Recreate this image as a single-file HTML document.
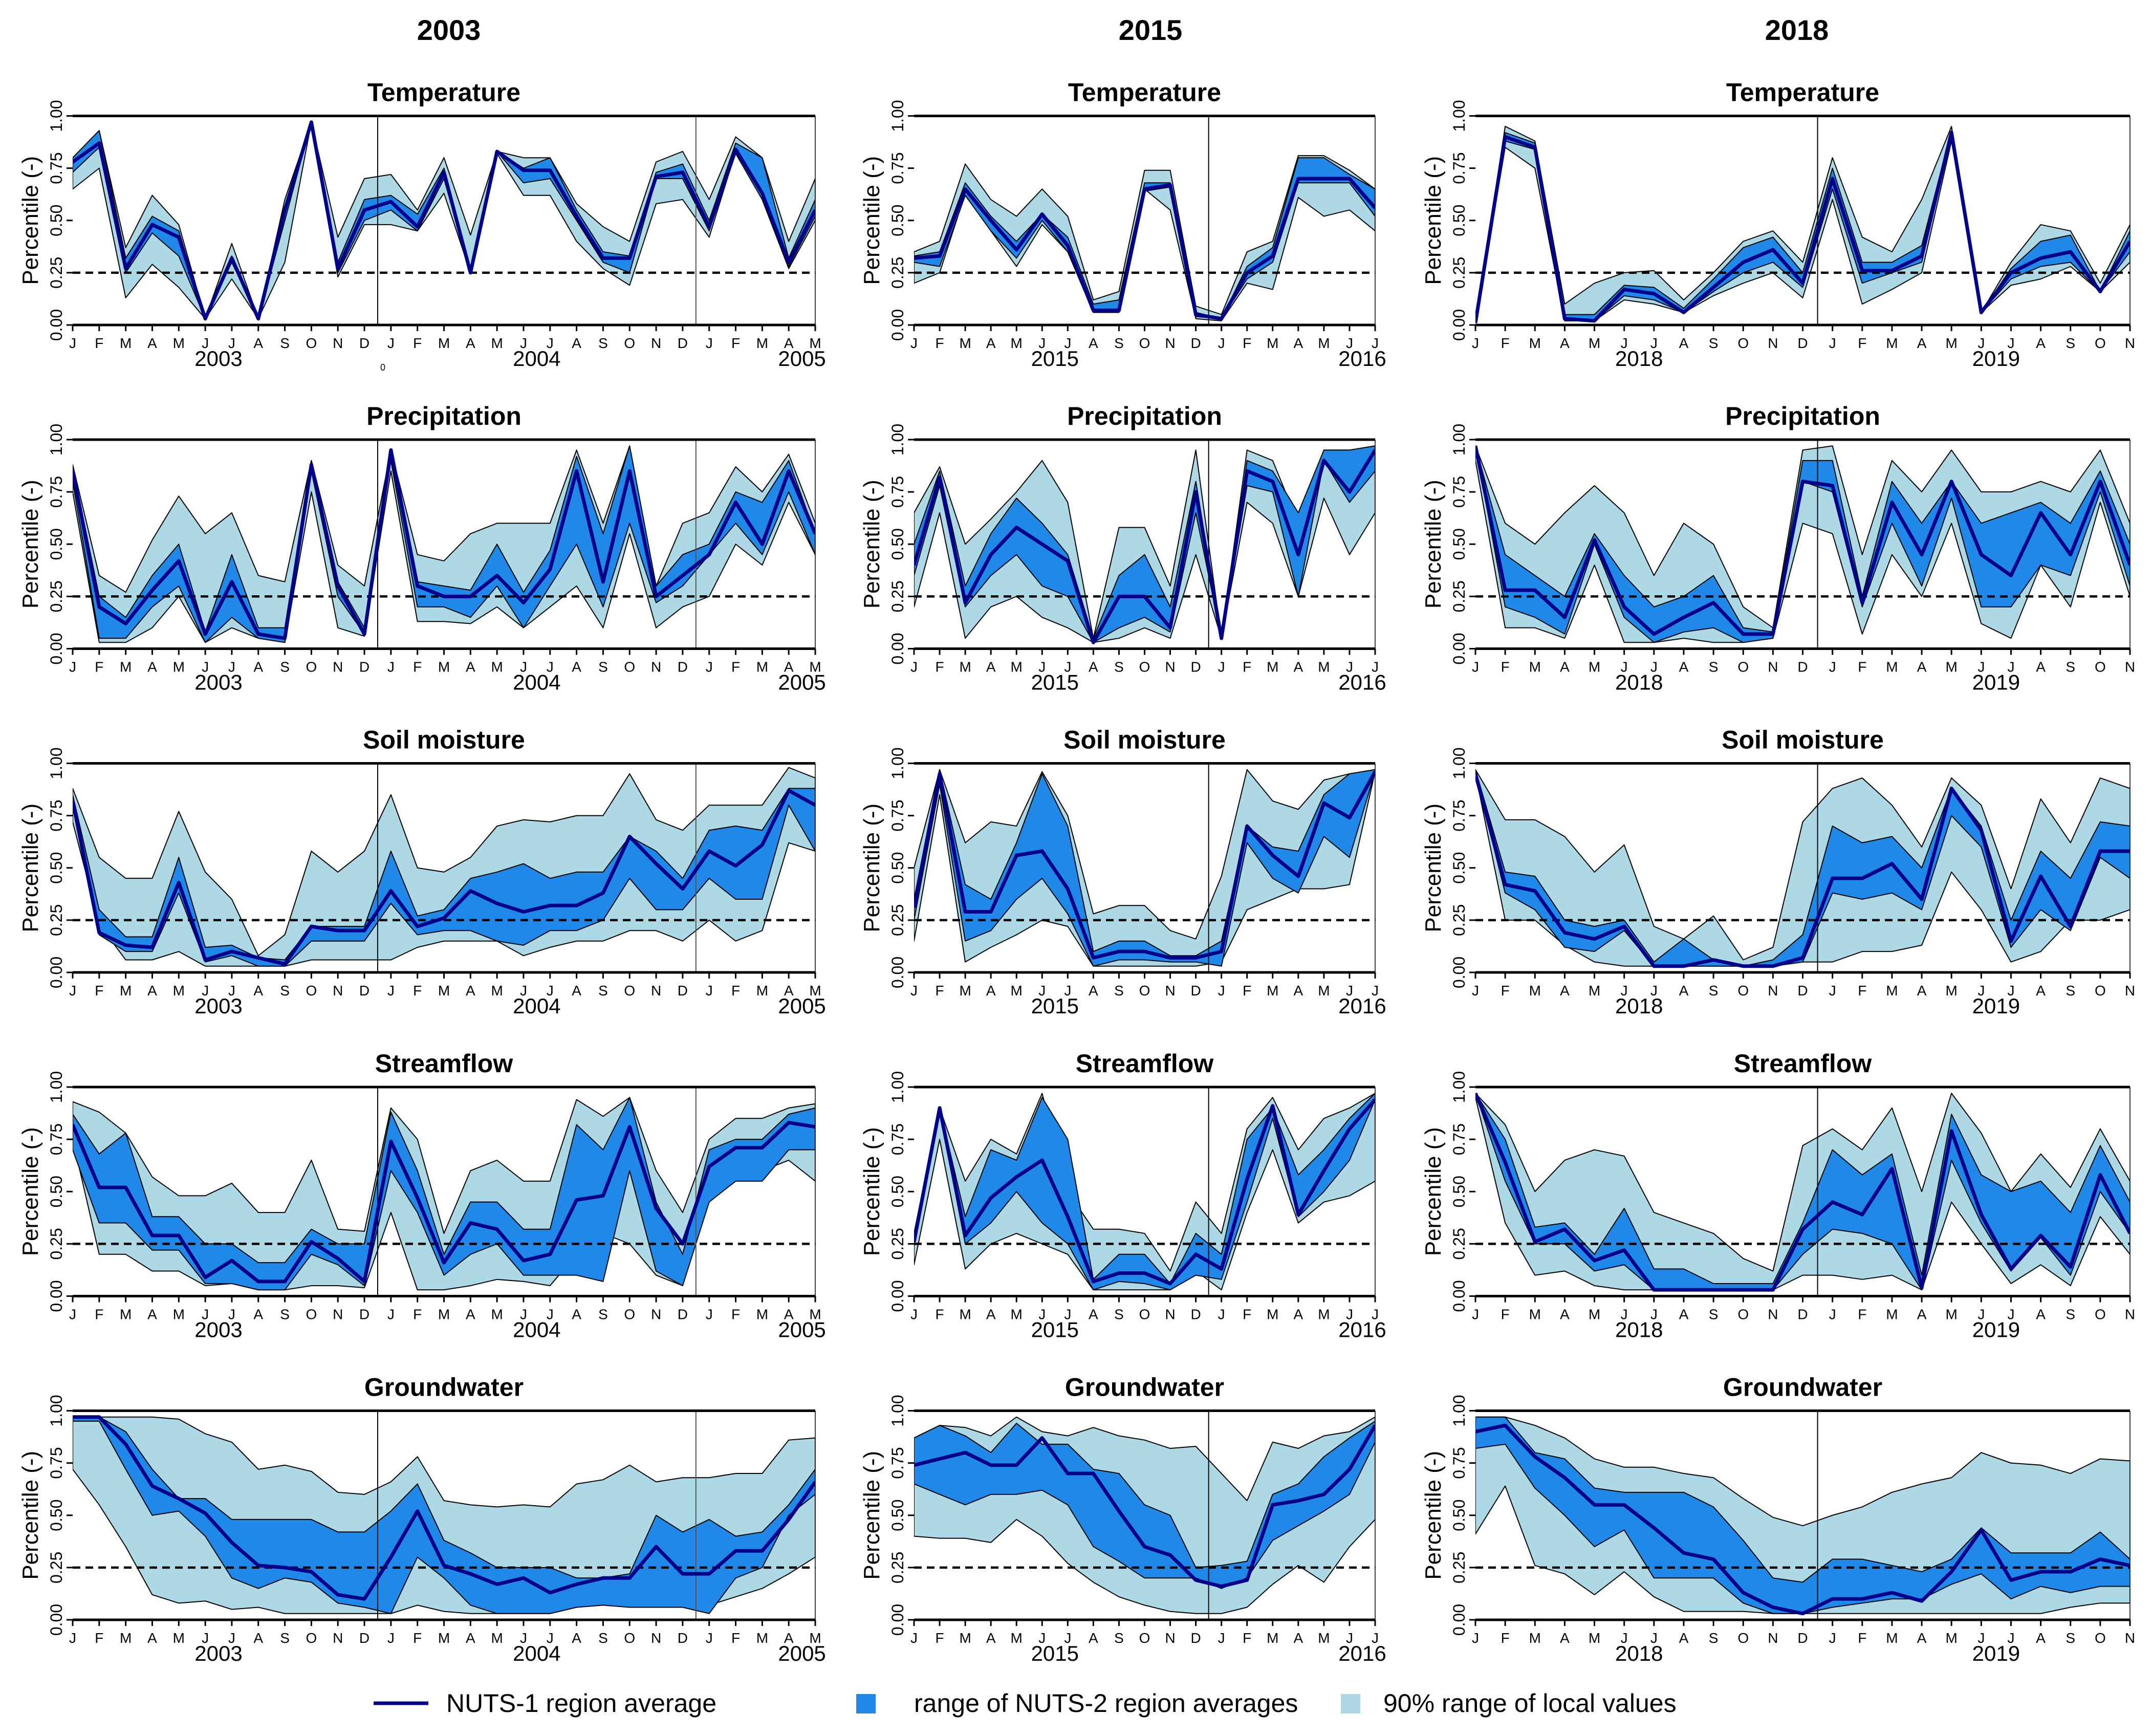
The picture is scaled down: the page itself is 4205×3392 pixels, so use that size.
<!DOCTYPE html>
<html><head><meta charset="utf-8"><title>Drought percentiles</title>
<style>
html,body{margin:0;padding:0;background:#fff;}
svg{display:block;font-family:"Liberation Sans",sans-serif;}
</style></head>
<body>
<svg id="fig" width="4205" height="3392" viewBox="0 0 4205 3392" xmlns="http://www.w3.org/2000/svg">
<defs>
<clipPath id="cp0"><rect x="142" y="226" width="1451" height="410"/></clipPath>
<clipPath id="cp1"><rect x="1786" y="226" width="901" height="410"/></clipPath>
<clipPath id="cp2"><rect x="2883" y="226" width="1279" height="410"/></clipPath>
</defs>
<g font-weight="bold" font-size="56" text-anchor="middle">
<text x="877" y="78">2003</text>
<text x="2248" y="78">2015</text>
<text x="3511" y="78">2018</text>
</g>
<text x="748" y="724" font-size="18" text-anchor="middle">0</text>
<g id="panels"></g>
<g font-size="50">
<line x1="730" y1="3328" x2="837" y2="3328" stroke="#00008B" stroke-width="7"/>
<text x="872" y="3345">NUTS-1 region average</text>
<rect x="1673" y="3310" width="38" height="38" fill="#1f88e9"/>
<text x="1786" y="3345">range of NUTS-2 region averages</text>
<rect x="2620" y="3310" width="38" height="38" fill="#ADD8E6"/>
<text x="2703" y="3345">90% range of local values</text>
</g>
</svg>
<script>
// ===== Data: Temperature =====
const T03_avg=[.78,.87,.27,.48,.42,.03,.32,.03,.55,.97,.27,.55,.59,.47,.73,.25,.83,.74,.74,.52,.32,.32,.71,.73,.47,.84,.63,.3,.55];
const T03_n2lo=[.73,.85,.25,.44,.33,.03,.3,.03,.5,.97,.25,.5,.55,.45,.7,.25,.83,.68,.7,.5,.3,.25,.7,.7,.45,.82,.6,.28,.52];
const T03_n2hi=[.8,.93,.32,.52,.45,.03,.33,.03,.55,.97,.3,.6,.62,.53,.75,.27,.83,.75,.8,.55,.35,.33,.73,.77,.5,.87,.8,.32,.6];
const T03_lclo=[.65,.75,.13,.29,.18,.03,.22,.03,.3,.97,.23,.48,.48,.45,.63,.25,.82,.62,.62,.4,.27,.19,.58,.6,.42,.83,.6,.27,.5];
const T03_lchi=[.78,.93,.37,.62,.48,.03,.39,.03,.6,.97,.42,.7,.72,.55,.8,.43,.83,.8,.8,.58,.47,.4,.78,.83,.6,.9,.8,.4,.7];
const T15_avg=[.32,.33,.65,.5,.36,.53,.38,.07,.07,.65,.67,.05,.03,.25,.33,.7,.7,.7,.56];
const T15_n2lo=[.3,.28,.62,.45,.32,.5,.35,.06,.06,.64,.66,.04,.03,.22,.3,.68,.68,.68,.52];
const T15_n2hi=[.33,.35,.68,.52,.4,.53,.42,.1,.12,.68,.68,.06,.03,.28,.37,.8,.8,.72,.65];
const T15_lclo=[.2,.25,.63,.45,.28,.48,.35,.06,.06,.65,.55,.03,.02,.2,.17,.61,.52,.55,.45];
const T15_lchi=[.35,.4,.77,.6,.52,.65,.52,.12,.16,.74,.74,.09,.05,.35,.4,.81,.81,.74,.65];
const T18_avg=[.01,.9,.85,.03,.02,.17,.15,.06,.18,.3,.36,.2,.7,.26,.26,.33,.92,.06,.25,.32,.35,.16,.4];
const T18_n2lo=[.01,.88,.84,.02,.02,.14,.12,.06,.16,.25,.3,.18,.65,.2,.25,.3,.9,.06,.22,.28,.3,.16,.35];
const T18_n2hi=[.01,.92,.87,.05,.05,.19,.18,.08,.22,.37,.42,.25,.75,.3,.3,.38,.93,.06,.27,.4,.43,.16,.45];
const T18_lclo=[.01,.85,.75,.02,.02,.12,.1,.06,.14,.2,.25,.13,.6,.1,.17,.25,.88,.06,.19,.22,.28,.16,.3];
const T18_lchi=[.01,.95,.88,.1,.2,.25,.26,.12,.25,.4,.45,.3,.8,.42,.35,.6,.95,.06,.3,.48,.45,.2,.48];
// ===== Data: Precipitation =====
const P03_avg=[.85,.2,.12,.28,.42,.07,.32,.07,.05,.88,.3,.07,.95,.3,.25,.25,.35,.22,.38,.85,.32,.85,.25,.35,.45,.7,.5,.85,.55];
const P03_n2lo=[.8,.05,.05,.2,.3,.03,.15,.05,.03,.85,.25,.07,.9,.2,.2,.15,.3,.1,.3,.5,.2,.6,.22,.3,.45,.6,.45,.75,.45];
const P03_n2hi=[.87,.25,.15,.35,.5,.08,.45,.1,.1,.9,.32,.1,.95,.32,.3,.28,.5,.27,.47,.92,.55,.97,.3,.45,.5,.75,.7,.9,.55];
const P03_lclo=[.75,.03,.03,.1,.25,.03,.1,.05,.03,.75,.1,.06,.85,.13,.13,.12,.2,.1,.2,.3,.1,.55,.1,.2,.25,.5,.4,.7,.45];
const P03_lchi=[.88,.35,.27,.52,.73,.55,.65,.35,.32,.9,.4,.3,.95,.45,.42,.55,.6,.6,.6,.95,.6,.97,.3,.6,.65,.87,.75,.93,.6];
const P15_avg=[.4,.82,.22,.45,.58,.5,.42,.03,.25,.25,.1,.75,.05,.85,.8,.45,.9,.75,.95];
const P15_n2lo=[.35,.78,.2,.35,.45,.3,.25,.03,.1,.15,.08,.65,.05,.78,.75,.25,.9,.7,.85];
const P15_n2hi=[.5,.85,.3,.55,.72,.6,.45,.05,.35,.45,.2,.8,.05,.9,.85,.65,.95,.95,.97];
const P15_lclo=[.2,.65,.05,.2,.25,.15,.1,.03,.05,.1,.05,.45,.05,.7,.6,.25,.72,.45,.65];
const P15_lchi=[.65,.87,.5,.62,.75,.9,.7,.05,.58,.58,.3,.95,.05,.95,.9,.6,.95,.95,.97];
const P18_avg=[.97,.28,.28,.15,.52,.2,.07,.15,.22,.07,.07,.8,.78,.22,.7,.45,.8,.45,.35,.65,.45,.8,.4];
const P18_n2lo=[.97,.2,.15,.07,.5,.15,.03,.08,.1,.03,.05,.8,.75,.2,.6,.3,.72,.2,.2,.4,.35,.75,.3];
const P18_n2hi=[.97,.45,.35,.25,.55,.35,.2,.25,.35,.1,.08,.9,.9,.25,.8,.6,.8,.6,.65,.7,.6,.85,.5];
const P18_lclo=[.9,.1,.1,.05,.4,.03,.03,.05,.03,.03,.05,.6,.55,.07,.45,.25,.6,.12,.05,.4,.2,.7,.25];
const P18_lchi=[.97,.6,.5,.65,.78,.65,.35,.6,.5,.2,.1,.95,.97,.45,.9,.75,.95,.75,.75,.8,.75,.95,.6];
// ===== Data: Soil moisture =====
const S03_avg=[.82,.19,.13,.12,.43,.06,.1,.07,.04,.22,.2,.2,.39,.22,.26,.39,.33,.29,.32,.32,.38,.65,.52,.4,.58,.51,.61,.87,.8];
const S03_n2lo=[.8,.18,.1,.1,.38,.05,.08,.03,.03,.15,.15,.15,.33,.18,.2,.2,.15,.13,.2,.2,.25,.45,.3,.3,.45,.35,.35,.8,.58];
const S03_n2hi=[.85,.3,.17,.17,.55,.12,.13,.07,.06,.22,.22,.22,.58,.27,.3,.45,.48,.52,.45,.48,.48,.65,.58,.45,.68,.7,.68,.88,.88];
const S03_lclo=[.72,.23,.06,.06,.1,.03,.03,.03,.03,.06,.06,.06,.06,.12,.15,.15,.15,.08,.12,.15,.15,.2,.2,.15,.25,.15,.2,.62,.58];
const S03_lchi=[.88,.55,.45,.45,.77,.48,.35,.08,.18,.58,.48,.58,.85,.5,.48,.55,.7,.73,.72,.75,.75,.95,.73,.68,.8,.8,.8,.98,.93];
const S15_avg=[.31,.95,.29,.29,.56,.58,.4,.07,.1,.1,.07,.07,.1,.7,.56,.46,.81,.74,.96];
const S15_n2lo=[.25,.9,.15,.2,.35,.45,.28,.03,.06,.06,.05,.05,.03,.62,.45,.38,.65,.55,.96];
const S15_n2hi=[.35,.97,.42,.35,.62,.95,.7,.1,.15,.15,.08,.08,.15,.7,.6,.58,.85,.95,.97];
const S15_lclo=[.15,.85,.05,.12,.18,.25,.22,.03,.03,.03,.03,.03,.05,.3,.35,.4,.4,.42,.96];
const S15_lchi=[.5,.97,.62,.72,.7,.96,.75,.28,.32,.32,.2,.16,.46,.97,.82,.78,.92,.95,.97];
const S18_avg=[.95,.42,.39,.19,.16,.22,.03,.03,.06,.03,.03,.07,.45,.45,.52,.35,.88,.68,.15,.46,.22,.58,.58];
const S18_n2lo=[.95,.38,.3,.12,.1,.2,.03,.03,.03,.03,.03,.05,.38,.35,.38,.3,.75,.6,.12,.3,.2,.55,.45];
const S18_n2hi=[.97,.48,.46,.25,.22,.25,.05,.16,.06,.03,.06,.18,.7,.62,.65,.5,.88,.7,.25,.58,.45,.72,.7];
const S18_lclo=[.95,.25,.25,.13,.05,.03,.03,.03,.03,.03,.03,.05,.05,.1,.1,.13,.48,.3,.05,.1,.25,.25,.3];
const S18_lchi=[.97,.73,.73,.65,.48,.61,.22,.16,.27,.06,.12,.72,.88,.93,.8,.6,.93,.8,.4,.83,.62,.93,.88];
// ===== Data: Streamflow =====
const F03_avg=[.82,.52,.52,.29,.29,.09,.17,.07,.07,.26,.18,.07,.74,.47,.16,.35,.32,.17,.2,.46,.48,.81,.42,.25,.62,.71,.71,.83,.81];
const F03_n2lo=[.7,.35,.35,.22,.22,.06,.06,.03,.03,.2,.15,.05,.6,.4,.1,.2,.25,.1,.1,.1,.07,.6,.12,.05,.45,.55,.55,.7,.7];
const F03_n2hi=[.87,.68,.78,.38,.38,.25,.25,.16,.16,.32,.25,.25,.88,.6,.2,.45,.45,.32,.32,.82,.7,.95,.45,.2,.7,.75,.75,.87,.9];
const F03_lclo=[.75,.2,.2,.12,.12,.05,.06,.03,.03,.05,.05,.04,.4,.03,.03,.05,.08,.07,.05,.2,.3,.25,.1,.05,.5,.62,.6,.65,.55];
const F03_lchi=[.93,.88,.78,.57,.48,.48,.54,.4,.4,.65,.32,.31,.9,.75,.3,.6,.65,.55,.55,.94,.86,.95,.6,.4,.75,.85,.85,.9,.92];
const F15_avg=[.26,.9,.29,.47,.57,.65,.38,.07,.11,.11,.06,.2,.13,.56,.91,.39,.6,.8,.94];
const F15_n2lo=[.24,.88,.25,.35,.5,.35,.25,.03,.07,.06,.03,.1,.08,.45,.85,.38,.5,.65,.94];
const F15_n2hi=[.3,.9,.38,.7,.65,.95,.75,.08,.2,.2,.06,.3,.2,.75,.9,.58,.7,.85,.97];
const F15_lclo=[.15,.75,.13,.25,.3,.25,.2,.03,.03,.03,.03,.12,.03,.4,.7,.35,.45,.48,.55];
const F15_lchi=[.3,.9,.55,.75,.68,.97,.5,.32,.32,.3,.12,.45,.3,.8,.95,.7,.85,.9,.97];
const F18_avg=[.97,.64,.26,.32,.17,.22,.03,.03,.03,.03,.03,.32,.45,.39,.61,.04,.79,.39,.13,.29,.14,.58,.3];
const F18_n2lo=[.97,.55,.25,.25,.12,.15,.03,.03,.03,.03,.03,.2,.32,.3,.25,.03,.65,.35,.12,.28,.1,.5,.3];
const F18_n2hi=[.97,.75,.33,.35,.2,.42,.13,.13,.06,.06,.06,.35,.7,.58,.68,.1,.87,.58,.5,.55,.4,.72,.45];
const F18_lclo=[.95,.35,.1,.12,.05,.03,.03,.03,.03,.03,.03,.1,.1,.08,.1,.03,.45,.25,.06,.15,.05,.38,.2];
const F18_lchi=[.97,.82,.5,.65,.7,.67,.4,.35,.3,.18,.12,.72,.8,.7,.9,.5,.97,.78,.5,.68,.52,.8,.55];
// ===== Data: Groundwater =====
const G03_avg=[.97,.97,.84,.64,.58,.51,.37,.26,.25,.23,.12,.1,.3,.52,.26,.22,.17,.2,.13,.17,.2,.2,.35,.22,.22,.33,.33,.48,.66];
const G03_n2lo=[.95,.95,.72,.5,.52,.4,.2,.15,.2,.18,.08,.06,.03,.3,.2,.07,.03,.03,.03,.06,.07,.06,.06,.06,.03,.2,.25,.5,.6];
const G03_n2hi=[.97,.97,.9,.72,.58,.58,.48,.48,.48,.48,.42,.42,.52,.65,.38,.32,.25,.25,.25,.2,.2,.22,.5,.42,.48,.4,.42,.55,.72];
const G03_lclo=[.72,.55,.35,.12,.08,.09,.05,.06,.03,.03,.03,.03,.03,.07,.04,.03,.03,.03,.03,.06,.08,.06,.06,.06,.07,.11,.15,.22,.3];
const G03_lchi=[.97,.97,.97,.97,.96,.89,.85,.72,.74,.71,.61,.6,.66,.78,.57,.55,.54,.55,.54,.65,.67,.74,.66,.68,.68,.7,.7,.86,.87];
const G15_avg=[.74,.77,.8,.74,.74,.87,.7,.7,.52,.35,.31,.19,.16,.19,.55,.57,.6,.72,.93];
const G15_n2lo=[.65,.6,.55,.6,.6,.62,.55,.35,.28,.2,.2,.2,.15,.2,.38,.45,.52,.6,.85];
const G15_n2hi=[.87,.93,.88,.8,.94,.84,.84,.72,.7,.55,.5,.25,.26,.28,.6,.65,.78,.87,.95];
const G15_lclo=[.4,.39,.39,.37,.48,.4,.27,.18,.11,.07,.04,.03,.03,.06,.17,.26,.18,.35,.48];
const G15_lchi=[.87,.93,.92,.88,.97,.9,.88,.92,.88,.86,.82,.83,.7,.57,.85,.82,.88,.9,.97];
const G18_avg=[.9,.93,.78,.68,.55,.55,.44,.32,.29,.13,.06,.03,.1,.1,.13,.09,.23,.43,.19,.23,.23,.29,.26];
const G18_n2lo=[.82,.84,.63,.5,.35,.43,.2,.2,.2,.08,.03,.03,.06,.08,.1,.1,.17,.22,.1,.16,.13,.16,.16];
const G18_n2hi=[.97,.97,.8,.77,.63,.61,.61,.61,.54,.38,.2,.18,.29,.29,.26,.23,.29,.44,.32,.32,.32,.42,.29];
const G18_lclo=[.41,.64,.26,.22,.12,.23,.11,.04,.04,.04,.03,.03,.03,.03,.03,.03,.03,.03,.03,.03,.06,.08,.08];
const G18_lchi=[.97,.97,.93,.87,.77,.73,.73,.7,.68,.58,.49,.45,.5,.54,.61,.65,.68,.8,.75,.74,.7,.77,.76];

const rowTitles=["Temperature","Precipitation","Soil moisture","Streamflow","Groundwater"];
const monthLetters=["J","F","M","A","M","J","J","A","S","O","N","D"];
const colYears=[["2003","2004","2005"],["2015","2016"],["2018","2019"]];
const colYearIdx=[[5.5,17.5,27.5],[5.5,17.5],[5.5,17.5]];

const rowData=[
 [[T03_avg,T03_n2lo,T03_n2hi,T03_lclo,T03_lchi],[T15_avg,T15_n2lo,T15_n2hi,T15_lclo,T15_lchi],[T18_avg,T18_n2lo,T18_n2hi,T18_lclo,T18_lchi]],
 [[P03_avg,P03_n2lo,P03_n2hi,P03_lclo,P03_lchi],[P15_avg,P15_n2lo,P15_n2hi,P15_lclo,P15_lchi],[P18_avg,P18_n2lo,P18_n2hi,P18_lclo,P18_lchi]],
 [[S03_avg,S03_n2lo,S03_n2hi,S03_lclo,S03_lchi],[S15_avg,S15_n2lo,S15_n2hi,S15_lclo,S15_lchi],[S18_avg,S18_n2lo,S18_n2hi,S18_lclo,S18_lchi]],
 [[F03_avg,F03_n2lo,F03_n2hi,F03_lclo,F03_lchi],[F15_avg,F15_n2lo,F15_n2hi,F15_lclo,F15_lchi],[F18_avg,F18_n2lo,F18_n2hi,F18_lclo,F18_lchi]],
 [[G03_avg,G03_n2lo,G03_n2hi,G03_lclo,G03_lchi],[G15_avg,G15_n2lo,G15_n2hi,G15_lclo,G15_lchi],[G18_avg,G18_n2lo,G18_n2hi,G18_lclo,G18_lchi]]
];

const NS="http://www.w3.org/2000/svg";
const colX0=[142,1786,2883], colX1=[1593,2687,4162];
const rowTop0=226.5, rowStep=632.5, plotH=408.5;
const root=document.getElementById('panels');
function mk(tag,attrs,parent){const e=document.createElementNS(NS,tag);for(const k in attrs)e.setAttribute(k,attrs[k]);parent.appendChild(e);return e;}

for(let r=0;r<5;r++){
 for(let c=0;c<3;c++){
  const d=rowData[r][c];
  const n=d[0].length;
  const x0=colX0[c],x1=colX1[c];
  const top=rowTop0+r*rowStep,bot=top+plotH;
  const xs=i=>x0+i*(x1-x0)/(n-1);
  const ys=v=>bot-v*plotH;
  const g=mk('g',{},root);
  
  
  const t=mk('text',{x:(x0+x1)/2,y:top-29,'font-size':50,'font-weight':'bold','text-anchor':'middle'},g);
  t.textContent=rowTitles[r];
  
  
  const pg=mk('g',{'clip-path':'url(#cp'+c+')',transform:'translate(0,'+(r*rowStep)+')'},g);
  
  
  const band=(lo,hi,fill,name)=>{
   let pts=[];
   for(let i=0;i<n;i++)pts.push(xs(i)+','+(ys(hi[i])-r*rowStep));
   for(let i=n-1;i>=0;i--)pts.push(xs(i)+','+(ys(lo[i])-r*rowStep));
   const p=mk('polygon',{points:pts.join(' '),fill:fill,stroke:'#000','stroke-width':2,'stroke-linejoin':'round'},pg);
   
   
  };
  band(d[3],d[4],'#ADD8E6','band-local-90pct');
  band(d[1],d[2],'#1f88e9','band-nuts2-range');
  const seps=(c===0)?[11.5,23.5]:[11.5];
  seps.forEach((s,k)=>{
   const l=mk('line',{x1:xs(s),x2:xs(s),y1:top-r*rowStep,y2:bot-r*rowStep,stroke:(k===0?'#000':'#555'),'stroke-width':2},pg);
   
   
  });
  const dl=mk('line',{x1:x0,x2:x1,y1:ys(0.25)-r*rowStep,y2:ys(0.25)-r*rowStep,stroke:'#000','stroke-width':4.5,'stroke-dasharray':'15 10'},pg);
  
  
  let lp=[];for(let i=0;i<n;i++)lp.push(xs(i)+','+(ys(d[0][i])-r*rowStep));
  const al=mk('polyline',{points:lp.join(' '),fill:'none',stroke:'#00008B','stroke-width':7,'stroke-linejoin':'round'},pg);
  
  
  const fr=mk('g',{},g);
  
  
  mk('line',{x1:x0,x2:x1,y1:top,y2:top,stroke:'#000','stroke-width':5},fr);
  mk('line',{x1:x0,x2:x1,y1:bot,y2:bot,stroke:'#000','stroke-width':5},fr);
  mk('line',{x1:x1,x2:x1,y1:top,y2:bot,stroke:'#000','stroke-width':1.5},fr);
  const ya=mk('g',{},g);
  
  
  [0,0.25,0.5,0.75,1].forEach(v=>{
   const y=ys(v);
   mk('line',{x1:x0-12,x2:x0,y1:y,y2:y,stroke:'#000','stroke-width':3},ya);
   const tl=mk('text',{x:0,y:0,'font-size':32,'text-anchor':'middle',transform:'translate('+(x0-21)+','+y+') rotate(-90)'},ya);
   tl.textContent=v.toFixed(2);
   
   
  });
  const yt=mk('text',{x:0,y:0,'font-size':44,'text-anchor':'middle',transform:'translate('+(x0-68)+','+((top+bot)/2)+') rotate(-90)'},ya);
  yt.textContent='Percentile (-)';
  
  
  const xa=mk('g',{},g);
  
  
  for(let i=0;i<n;i++){
   mk('line',{x1:xs(i),x2:xs(i),y1:bot,y2:bot+12,stroke:'#000','stroke-width':3},xa);
   const ml=mk('text',{x:xs(i),y:bot+45,'font-size':28,'text-anchor':'middle'},xa);
   ml.textContent=monthLetters[i%12];
   
   
  }
  colYears[c].forEach((yr,k)=>{
   const yl=mk('text',{x:xs(colYearIdx[c][k]),y:bot+80,'font-size':42,'text-anchor':'middle'},xa);
   yl.textContent=yr;
   
   
  });
 }
}
</script>
</body></html>
